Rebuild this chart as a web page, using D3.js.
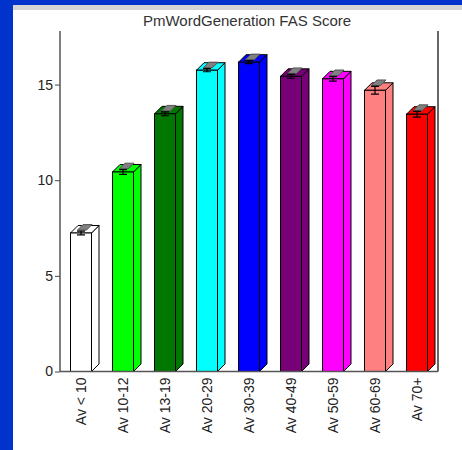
<!DOCTYPE html>
<html lang="en">
<head>
    <meta charset="UTF-8">
    <title>PmWordGeneration FAS Score</title>
    <style>
        body { margin: 0; background: #fff; }
        svg { display: block; }
    </style>
</head>
<body>
    <svg width="462" height="450"></svg>
    <script src="https://d3js.org/d3.v7.min.js"></script>
    <script>
        var categories = ['Av < 10', 'Av 10-12', 'Av 13-19', 'Av 20-29', 'Av 30-39', 'Av 40-49', 'Av 50-59', 'Av 60-69', 'Av 70+']
        var scores = [7.24, 10.43, 13.47, 15.75, 16.17, 15.43, 15.3, 14.7, 13.45]
        var errors = [0.1, 0.12, 0.1, 0.08, 0.08, 0.1, 0.12, 0.2, 0.15]
        var barColors = ['#ffffff', '#00ff00', '#007700', '#00ffff', '#0000ff', '#770077', '#ff00ff', '#ff8080', '#ff0000']
        var yTicks = [0, 5, 10, 15]

        var svg = d3.select('svg')
        // note: "top" is window.top, so use other names
        var plotLeft = 60, plotRight = 438, plotTop = 31, plotBottom = 371.5
        var depth = 7.5

        // frame: blue edges + grey strip like the slide
        svg.append('rect').attr('x', 0).attr('y', 0).attr('width', 462).attr('height', 450).attr('fill', '#fff')
        svg.append('rect').attr('x', 0).attr('y', 0).attr('width', 462).attr('height', 5).attr('fill', '#0033cc')
        svg.append('rect').attr('x', 0).attr('y', 0).attr('width', 13).attr('height', 450).attr('fill', '#0033cc')
        svg.append('rect').attr('x', 13).attr('y', 5).attr('width', 449).attr('height', 5).attr('fill', '#d4d4d4')

        var x = d3.scaleBand()
            .domain(categories)
            .range([plotLeft, plotRight])
            .paddingInner(0.5)
            .paddingOuter(0.25)

        var y = d3.scaleLinear()
            .domain([0, 17.8])
            .range([plotBottom, plotTop])

        // title
        svg.append('text')
            .attr('x', 247)
            .attr('y', 26)
            .attr('text-anchor', 'middle')
            .attr('font-family', 'Liberation Sans, Arial, sans-serif')
            .attr('font-size', 15)
            .attr('fill', '#333')
            .text('PmWordGeneration FAS Score')

        // y axis
        var yAxis = svg.append('g')
            .attr('transform', 'translate(' + plotLeft + ',0)')
            .call(d3.axisLeft(y).tickValues(yTicks).tickSize(5).tickPadding(2).tickFormat(d3.format('d')))
        yAxis.select('.domain').remove()
        yAxis.selectAll('line').attr('stroke', '#444')
        yAxis.selectAll('text')
            .attr('font-family', 'Liberation Sans, Arial, sans-serif')
            .attr('font-size', 14)
            .attr('fill', '#222')

        svg.append('line')
            .attr('x1', plotLeft).attr('y1', plotTop).attr('x2', plotLeft).attr('y2', plotBottom)
            .attr('stroke', '#555').attr('stroke-width', 1.5)
        svg.append('line')
            .attr('x1', plotRight).attr('y1', plotTop).attr('x2', plotRight).attr('y2', plotBottom)
            .attr('stroke', '#666').attr('stroke-width', 2)

        // bars
        var bars = svg.append('g')
            .selectAll('g')
            .data(scores)
            .enter()
            .append('g')

        var w = x.bandwidth()

        // side face
        bars.append('path')
            .attr('d', function(d, i) {
                var x1 = x(categories[i]) + w, y1 = y(d), y0 = y(0)
                return 'M' + x1 + ',' + y0 + 'L' + (x1 + depth) + ',' + (y0 - depth) +
                    'L' + (x1 + depth) + ',' + (y1 - depth) + 'L' + x1 + ',' + y1 + 'Z'
            })
            .attr('fill', function(d, i) { return barColors[i] })
            .attr('stroke', '#000')
            .attr('stroke-width', 1)
            .attr('stroke-linejoin', 'round')

        // top face
        bars.append('path')
            .attr('d', function(d, i) {
                var x0 = x(categories[i]), y1 = y(d)
                return 'M' + x0 + ',' + y1 + 'L' + (x0 + depth) + ',' + (y1 - depth) +
                    'L' + (x0 + w + depth) + ',' + (y1 - depth) + 'L' + (x0 + w) + ',' + y1 + 'Z'
            })
            .attr('fill', function(d, i) { return barColors[i] })
            .attr('stroke', '#000')
            .attr('stroke-width', 1)
            .attr('stroke-linejoin', 'round')

        // front face
        bars.append('rect')
            .attr('x', function(d, i) { return x(categories[i]) })
            .attr('y', function(d) { return y(d) })
            .attr('width', w)
            .attr('height', function(d) { return y(0) - y(d) })
            .attr('fill', function(d, i) { return barColors[i] })
            .attr('stroke', '#000')
            .attr('stroke-width', 1)

        // grey error patch on top
        bars.append('path')
            .attr('d', function(d, i) {
                var cx = x(categories[i]) + w / 2, yt = y(d + errors[i])
                var hw = 4.5
                return 'M' + (cx - hw + 1) + ',' + (yt - 1) + 'L' + (cx - hw + depth - 1) + ',' + (yt - depth + 1) +
                    'L' + (cx + hw + depth - 1) + ',' + (yt - depth + 1) + 'L' + (cx + hw + 1) + ',' + (yt - 1) + 'Z'
            })
            .attr('fill', '#808080')
            .attr('stroke', '#555')
            .attr('stroke-width', 1)

        // error bars
        bars.append('path')
            .attr('d', function(d, i) {
                var cx = x(categories[i]) + w / 2
                var yl = y(d - errors[i]), yh = y(d + errors[i])
                return 'M' + (cx - 4) + ',' + yh + 'H' + (cx + 4) +
                    'M' + cx + ',' + yh + 'V' + yl +
                    'M' + (cx - 4) + ',' + yl + 'H' + (cx + 4)
            })
            .attr('fill', 'none')
            .attr('stroke', '#000')
            .attr('stroke-width', 1.2)

        // baseline
        svg.append('line')
            .attr('x1', plotLeft).attr('y1', plotBottom).attr('x2', plotRight).attr('y2', plotBottom)
            .attr('stroke', '#555').attr('stroke-width', 1.5)

        // x labels
        svg.append('g')
            .selectAll('text')
            .data(categories)
            .enter()
            .append('text')
            .attr('transform', function(d) {
                return 'translate(' + (x(d) + w / 2 + 5) + ',' + (plotBottom + 6) + ') rotate(-90)'
            })
            .attr('text-anchor', 'end')
            .attr('font-family', 'Liberation Sans, Arial, sans-serif')
            .attr('font-size', 14)
            .attr('fill', '#222')
            .text(function(d) { return d })
    </script>
</body>
</html>
